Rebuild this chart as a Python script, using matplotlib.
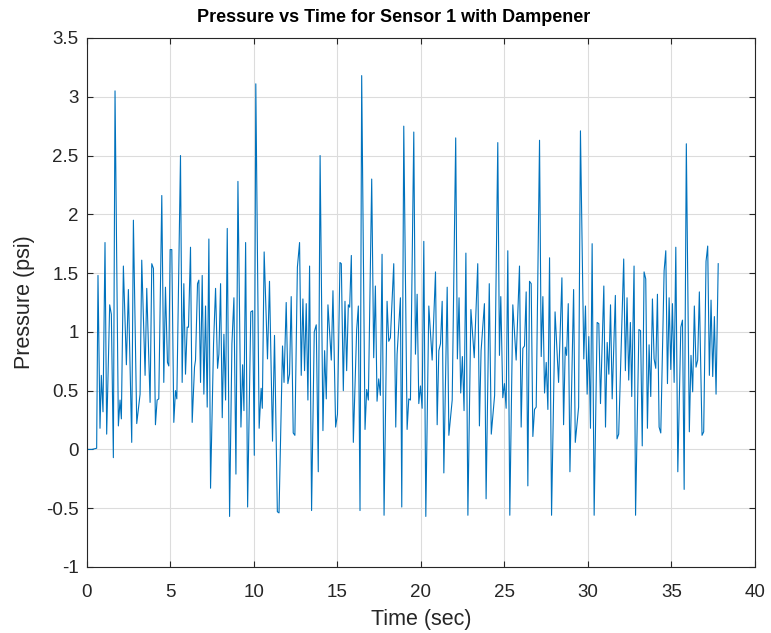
import matplotlib
matplotlib.use("Agg")
import matplotlib.pyplot as plt

# (time, pressure) samples
time_sec = [
    0.0, 0.3, 0.58, 0.66, 0.78, 0.86, 0.96, 1.08, 1.18, 1.36, 1.46, 1.58, 1.68, 1.88, 1.98,
    2.06, 2.18, 2.36, 2.48, 2.68, 2.78, 2.98, 3.18, 3.28, 3.48, 3.58, 3.78, 3.88, 3.98,
    4.1, 4.2, 4.3, 4.48, 4.6, 4.7, 4.82, 4.9, 4.98, 5.08, 5.2, 5.3, 5.38, 5.6, 5.7, 5.8,
    5.9, 6.0, 6.08, 6.2, 6.3, 6.44, 6.5, 6.62, 6.7, 6.8, 6.9, 7.0, 7.1, 7.2, 7.3, 7.4,
    7.58, 7.7, 7.82, 7.9, 8.0, 8.1, 8.2, 8.3, 8.4, 8.54, 8.68, 8.8, 8.92, 9.04, 9.22,
    9.32, 9.4, 9.5, 9.62, 9.81, 9.92, 10.02, 10.11, 10.31, 10.43, 10.5, 10.61, 10.81,
    10.93, 11.11, 11.23, 11.4, 11.5, 11.71, 11.8, 11.93, 12.03, 12.13, 12.23, 12.35,
    12.45, 12.6, 12.73, 12.83, 12.93, 13.03, 13.13, 13.23, 13.33, 13.45, 13.61, 13.73,
    13.85, 13.96, 14.13, 14.23, 14.33, 14.43, 14.63, 14.73, 14.89, 15.0, 15.15, 15.23,
    15.35, 15.45, 15.55, 15.65, 15.73, 15.83, 15.95, 16.15, 16.25, 16.35, 16.45, 16.65,
    16.75, 16.85, 17.05, 17.17, 17.27, 17.37, 17.47, 17.57, 17.67, 17.79, 17.97, 18.07,
    18.17, 18.37, 18.49, 18.57, 18.77, 18.85, 18.97, 19.17, 19.27, 19.37, 19.57, 19.67,
    19.77, 19.87, 19.97, 20.07, 20.17, 20.29, 20.47, 20.67, 20.87, 20.97, 21.07, 21.17,
    21.27, 21.37, 21.57, 21.67, 21.87, 22.08, 22.18, 22.28, 22.38, 22.48, 22.58, 22.69,
    22.81, 22.99, 23.19, 23.4, 23.5, 23.6, 23.8, 23.9, 24.09, 24.21, 24.41, 24.6, 24.7,
    24.78, 24.9, 25.0, 25.1, 25.2, 25.32, 25.5, 25.7, 25.9, 26.0, 26.1, 26.2, 26.3, 26.4,
    26.5, 26.6, 26.7, 26.8, 26.9, 27.1, 27.2, 27.3, 27.4, 27.5, 27.6, 27.7, 27.82, 28.03,
    28.24, 28.44, 28.54, 28.64, 28.72, 28.82, 28.92, 29.14, 29.24, 29.44, 29.55, 29.75,
    29.85, 29.95, 30.05, 30.15, 30.25, 30.37, 30.55, 30.65, 30.75, 30.95, 31.05, 31.15,
    31.25, 31.35, 31.45, 31.64, 31.74, 31.84, 32.14, 32.24, 32.34, 32.44, 32.54, 32.62,
    32.76, 32.85, 33.05, 33.15, 33.25, 33.36, 33.46, 33.56, 33.66, 33.76, 33.86, 33.96,
    34.06, 34.16, 34.26, 34.36, 34.56, 34.66, 34.76, 34.86, 34.96, 35.06, 35.16, 35.26,
    35.38, 35.56, 35.66, 35.76, 35.89, 36.07, 36.17, 36.27, 36.37, 36.47, 36.57, 36.67,
    36.83, 36.93, 37.07, 37.17, 37.27, 37.37, 37.47, 37.57, 37.67, 37.8,
]
pressure_psi = [
    0.0, 0.0, 0.01, 1.48, 0.18, 0.63, 0.32, 1.76, 0.13, 1.23, 1.15, -0.07, 3.05, 0.2, 0.42,
    0.26, 1.56, 0.72, 1.36, 0.06, 1.95, 0.22, 0.47, 1.61, 0.63, 1.37, 0.4, 1.58, 1.54,
    0.21, 0.42, 0.43, 2.16, 0.57, 1.38, 0.74, 0.71, 1.7, 1.7, 0.23, 0.5, 0.43, 2.5, 0.57, 1.41,
    0.64, 1.04, 1.04, 1.72, 0.23, 0.7, 0.76, 1.41, 1.44, 0.57, 1.48, 0.47, 1.22, 0.36, 1.79, -0.33,
    0.9, 1.37, 0.69, 0.81, 1.41, 0.27, 0.98, 0.42, 1.88, -0.57, 0.9, 1.29, -0.21, 2.28, 0.19,
    0.72, 0.33, 1.76, -0.49, 1.17, 1.18, -0.05, 3.11, 0.18, 0.52, 0.35, 1.68, 0.77,
    1.43, 0.07, 0.97, -0.53, -0.54, 0.88, 0.57, 1.25, 0.56, 0.64, 1.3, 0.14,
    0.12, 1.55, 1.76, 0.63, 1.28, 0.67, 1.24, 0.42, 1.56, -0.52, 1.0, 1.06,
    -0.19, 2.5, 0.16, 0.84, 0.43, 1.23, 0.76, 1.35, 0.19, 0.3, 1.59, 1.58,
    0.5, 1.26, 0.67, 1.23, 1.21, 1.65, 0.06, 1.02, 1.22, -0.52, 3.18, 0.17,
    0.51, 0.42, 2.3, 0.78, 1.39, 0.41, 0.6, 0.46, 1.66, -0.56, 1.26, 0.92,
    0.95, 1.58, 0.19, 0.81, 1.29, -0.49, 2.75, 0.17, 0.43, 0.42, 2.7, 0.81,
    1.32, 0.39, 0.54, 0.35, 1.77, -0.57, 1.22, 0.76, 1.51, 0.21, 0.84, 0.9,
    1.26, -0.2, 1.38, 0.12, 0.42, 2.65, 0.77, 1.29, 0.48, 0.79, 0.33, 1.67,
    -0.56, 1.19, 0.78, 1.58, 0.2, 0.84, 1.24, -0.42, 1.41, 0.13, 0.46, 2.61, 0.8,
    1.3, 0.44, 0.56, 0.35, 1.69, -0.56, 1.23, 0.76, 1.56, 0.19, 0.86, 0.88, 1.34, -0.31,
    1.43, 1.41, 0.11, 0.34, 0.36, 2.63, 0.79, 1.3, 0.48, 0.74, 0.34, 1.63, -0.56, 1.17,
    0.57, 1.46, 0.21, 0.87, 0.8, 1.24, -0.19, 1.36, 0.06, 0.36, 2.71, 0.77,
    1.22, 0.47, 0.96, 0.18, 1.75, -0.56, 1.08, 1.07, 0.39, 1.39, 0.19, 0.91,
    0.64, 1.23, 0.43, 1.31, 0.09, 0.13, 1.62, 0.67, 1.29, 0.59, 1.08, 0.45,
    1.56, -0.56, 1.02, 1.01, 0.03, 1.51, 1.45, 0.18, 0.89, 0.45, 1.28, 0.77,
    0.69, 1.32, 0.19, 0.14, 1.52, 1.69, 0.56, 1.29, 0.68, 1.24, 0.57, 1.72,
    -0.19, 1.04, 1.1, -0.34, 2.6, 0.15, 0.8, 0.49, 1.22, 0.7, 0.76, 1.34,
    0.12, 0.15, 1.6, 1.73, 0.63, 1.27, 0.62, 1.13, 0.47, 1.58,
]

plt.rcParams['font.family'] = ['Liberation Sans', 'DejaVu Sans']
dark = '#262626'

fig = plt.figure(figsize=(7.71, 6.33), dpi=100)
ax = fig.add_axes([0.1128, 0.1043, 0.8664, 0.8357])
ax.plot(time_sec, pressure_psi, color='#0072BD', linewidth=0.8)

ax.set_xlim(0, 40)
ax.set_ylim(-1, 3.5)
ax.set_xticks(range(0, 41, 5))
ax.set_yticks([-1, -0.5, 0, 0.5, 1, 1.5, 2, 2.5, 3, 3.5])
ax.set_yticklabels(['-1', '-0.5', '0', '0.5', '1', '1.5', '2', '2.5', '3', '3.5'])
ax.grid(True, color='#dcdcdc', linewidth=0.8)
ax.set_axisbelow(True)
ax.tick_params(direction='in', length=4, width=0.8, top=True, right=True,
               labelsize=13.5, colors=dark, pad=6)
ax.tick_params(axis='x', pad=12)
for s in ax.spines.values():
    s.set_color(dark)
    s.set_linewidth(0.8)

fig.text(394 / 771, 1 - 18 / 633, 'Pressure vs Time for Sensor 1 with Dampener',
         fontsize=13, fontweight='bold', color='black', ha='center', va='center')
ax.set_xlabel('Time (sec)', fontsize=15.5, color=dark, labelpad=6)
ax.set_ylabel('Pressure (psi)', fontsize=15.5, color=dark, labelpad=8)

fig.savefig('out.png', dpi=100)
